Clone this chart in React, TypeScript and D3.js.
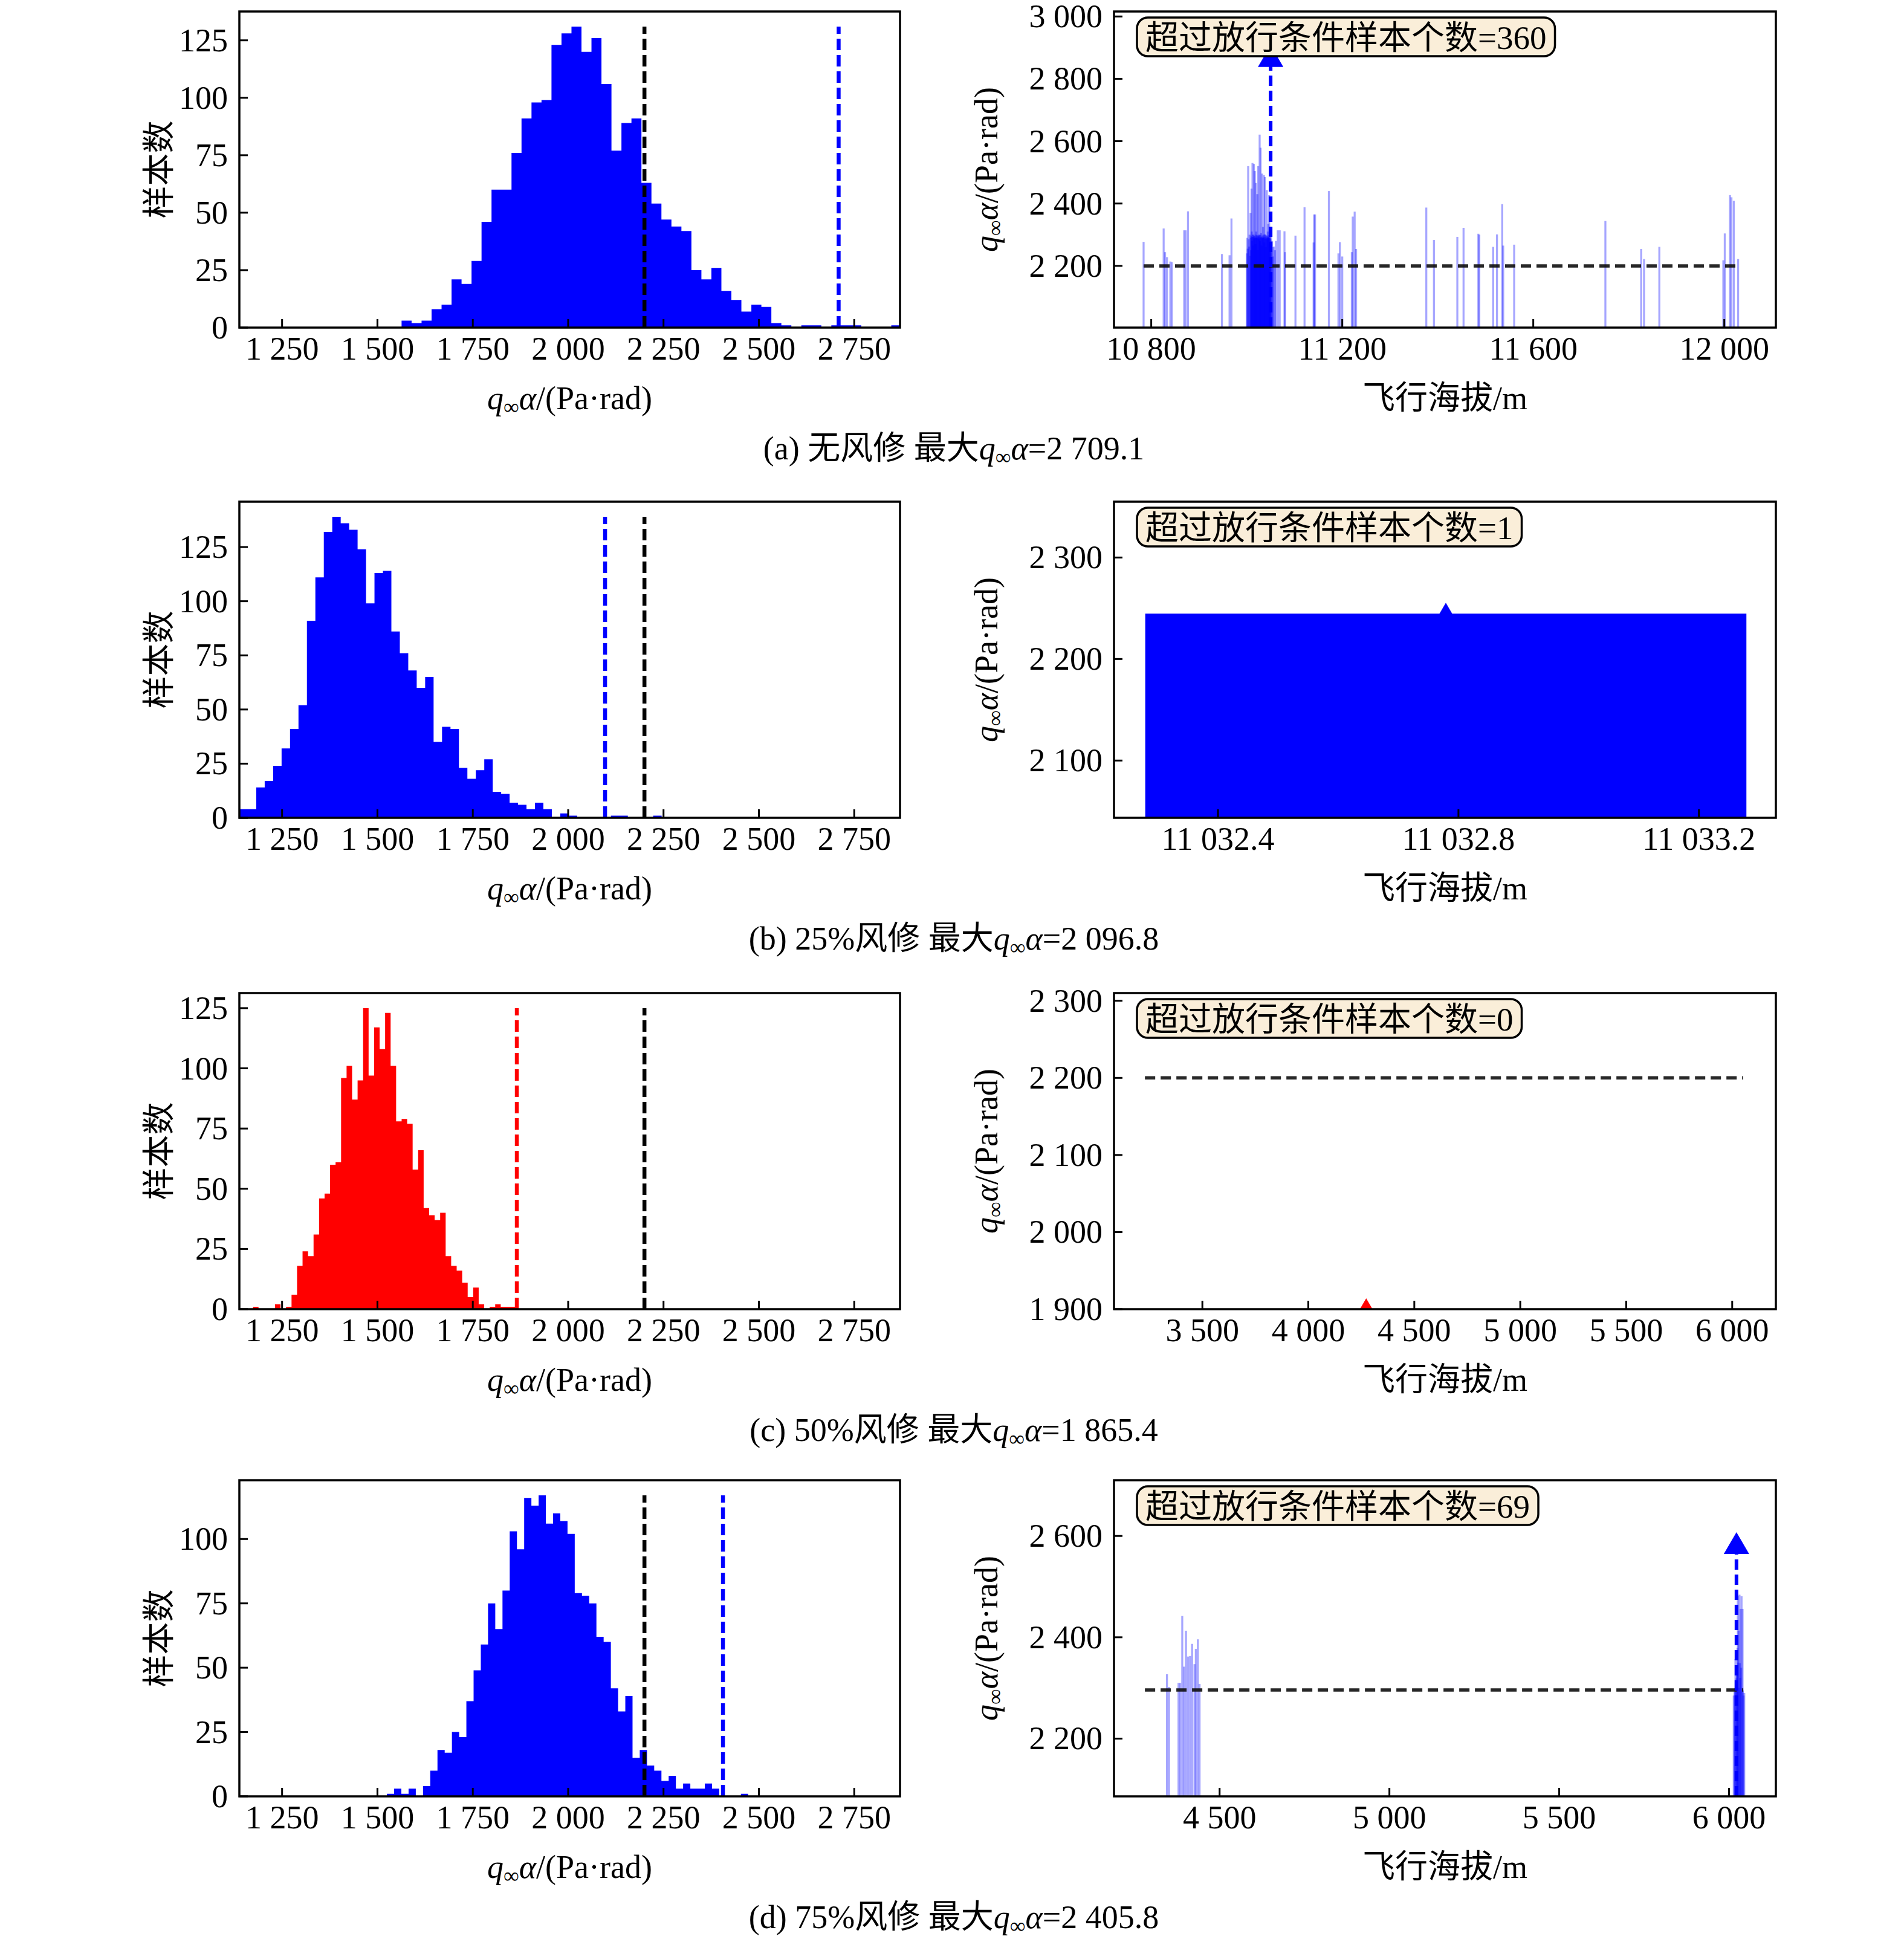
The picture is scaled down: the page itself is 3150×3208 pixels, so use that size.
import { useEffect, useRef } from "react";
import * as d3 from "d3";

const W = 3150;
const H = 3208;

// ---- left column: histograms of q·alpha ----
const histXDomain = [1138, 2870];
const histXTicks = [1250, 1500, 1750, 2000, 2250, 2500, 2750];
const histStart = [1563.3, 1138.0, 1173.8, 1524.8];
const histBinWidth = [26.2, 22.14, 14.43, 18.94];
const histCountsA = [3, 2, 3, 8, 10, 21, 19, 29, 46, 60, 60, 76, 91, 98, 99, 123, 128, 131, 120, 126, 106, 77, 89, 91, 63, 54, 47, 44, 42, 25, 21, 26, 16, 12, 7, 10, 9, 2, 1, 0, 1, 1, 0, 1, 1, 1, 0, 0, 0, 1];
const histCountsB = [4, 4, 14, 17, 24, 32, 41, 52, 91, 111, 132, 139, 136, 133, 124, 99, 113, 114, 86, 76, 68, 60, 65, 35, 42, 41, 23, 18, 22, 27, 12, 11, 7, 6, 4, 7, 4, 0, 2, 1, 0, 0, 0, 0, 1, 1, 0, 0, 0, 1];
const histCountsC = [1, 0, 0, 0, 2, 0, 1, 6, 18, 24, 22, 31, 46, 48, 60, 61, 96, 101, 87, 95, 125, 97, 117, 108, 123, 101, 78, 79, 77, 58, 66, 42, 39, 37, 40, 22, 18, 16, 11, 5, 9, 2, 0, 1, 2, 1, 1, 1];
const histCountsD = [1, 3, 1, 3, 0, 4, 10, 18, 17, 25, 23, 37, 49, 59, 75, 65, 80, 103, 96, 116, 113, 117, 106, 110, 107, 102, 79, 78, 75, 62, 60, 42, 33, 39, 15, 18, 12, 10, 6, 8, 3, 5, 3, 3, 5, 3, 0, 0, 0, 1];
const histCounts = [histCountsA, histCountsB, histCountsC, histCountsD];
const histColor = ["#0000ff", "#0000ff", "#ff0000", "#0000ff"];
const maxQ = [2709.1, 2096.8, 1865.4, 2405.8];
const limitQ = 2200;
const histYTicks = [0, 25, 50, 75, 100, 125];

// ---- right column: samples above the limit vs altitude ----
const exceedA: [number, number][] = [
  [10784, 2277], [10826, 2320], [10829, 2244], [10833, 2228], [10840, 2214], [10843, 2212],
  [10869, 2314], [10872, 2314], [10877, 2375], [10948, 2238], [10964, 2234], [10968, 2352],
  [11000, 2240], [11001, 2290], [11002, 2255], [11003, 2520], [11004, 2285], [11005, 2262],
  [11006, 2300], [11007, 2232], [11008, 2370], [11008.5, 2290], [11009, 2250], [11009.5, 2295],
  [11010, 2448], [11010.5, 2310], [11011, 2280], [11011.5, 2293], [11012, 2530], [11012.5, 2300],
  [11013, 2265], [11013.5, 2292], [11014, 2300], [11014.5, 2288], [11015, 2527], [11015.5, 2296],
  [11016, 2295], [11016.5, 2290], [11017, 2504], [11017.5, 2291], [11018, 2270], [11018.5, 2300],
  [11019, 2466], [11019.5, 2289], [11020, 2310], [11020.5, 2294], [11021, 2288], [11021.5, 2298],
  [11022, 2430], [11022.5, 2290], [11023, 2250], [11023.5, 2297], [11024, 2520], [11024.5, 2292],
  [11025, 2300], [11025.5, 2286], [11026, 2295], [11026.5, 2300], [11027, 2621], [11027.5, 2291],
  [11028, 2280], [11028.5, 2299], [11029, 2579], [11029.5, 2290], [11030, 2305], [11030.5, 2294],
  [11031, 2265], [11031.5, 2292], [11032, 2496], [11032.5, 2288], [11033, 2290], [11033.5, 2297],
  [11034, 2325], [11034.5, 2289], [11035, 2300], [11035.5, 2293], [11036, 2491], [11036.5, 2290],
  [11037, 2275], [11037.5, 2301], [11038, 2485], [11038.5, 2287], [11039, 2300], [11039.5, 2294],
  [11040, 2260], [11040.5, 2291], [11041, 2298], [11041.5, 2288], [11042, 2443], [11042.5, 2296],
  [11043, 2285], [11043.5, 2290], [11044, 2310], [11044.5, 2293], [11045, 2335], [11045.5, 2289],
  [11046, 2290], [11046.5, 2298], [11047, 2427], [11047.5, 2292], [11048, 2270], [11048.5, 2290],
  [11049, 2300], [11049.5, 2287], [11050, 2280], [11051, 2295], [11052, 2245], [11053, 2280],
  [11054, 2260], [11055, 2230], [11057, 2262], [11059, 2250], [11061, 2280],
  [11065, 2314], [11069, 2314], [11079, 2311], [11080, 2244], [11102, 2297], [11121, 2388],
  [11140, 2275], [11141, 2365], [11143, 2365], [11172, 2440], [11192, 2240], [11195, 2276],
  [11200, 2230], [11220, 2244], [11222, 2358], [11226, 2374], [11229, 2254],
  [11376, 2387], [11392, 2283], [11441, 2293], [11454, 2322], [11485, 2303], [11487, 2300],
  [11516, 2261], [11524, 2301], [11535, 2398], [11537, 2265], [11560, 2268],
  [11751, 2344], [11826, 2254], [11832, 2222], [11864, 2261],
  [11998, 2218], [12001, 2304], [12012, 2427], [12015, 2420], [12020, 2409], [12029, 2222],
];
const exceedB: [number, number][] = [[11032.779, 2244.7]];
const exceedC: [number, number][] = [];
const exceedD: [number, number][] = [
  [4345, 2327], [4351, 2302], [4379, 2310], [4384, 2310], [4390, 2442], [4395, 2342],
  [4401, 2413], [4407, 2362], [4413, 2363], [4419, 2387], [4426, 2347], [4430, 2377],
  [4436, 2396], [4441, 2308],
  [6014, 2285], [6016, 2293], [6018, 2300], [6019, 2357], [6020, 2310], [6022, 2319],
  [6023, 2336], [6024, 2330], [6025, 2379], [6026, 2481], [6027, 2350], [6028, 2413],
  [6029, 2300], [6031, 2484], [6032, 2349], [6033, 2320], [6034, 2456], [6036, 2340],
  [6037, 2481], [6038, 2300], [6040, 2456], [6041, 2295], [6043, 2285], [6045, 2290],
];
const exceed = [exceedA, exceedB, exceedC, exceedD];
const exceedCount = [360, 1, 0, 69];
const rightXDomain = [[10722, 12108], [11032.227, 11033.328], [3083, 6206], [4189, 6138]];
const rightYDomain = [[2002, 3016], [2043.6, 2355], [1900, 2310], [2086, 2710]];
const rightXTicks = [
  [10800, 11200, 11600, 12000],
  [11032.4, 11032.8, 11033.2],
  [3500, 4000, 4500, 5000, 5500, 6000],
  [4500, 5000, 5500, 6000],
];
const rightYTicks = [
  [2200, 2400, 2600, 2800, 3000],
  [2100, 2200, 2300],
  [1900, 2000, 2100, 2200, 2300],
  [2200, 2400, 2600],
];
// [x from, x to, level] of the black limit line
const limitSpan: ([number, number, number] | null)[] = [
  [10784, 12031, 2200],
  null,
  [3229, 6052, 2200],
  [4280, 6042, 2296],
];
const maxMark = [[11050, 2873], [11032.779, 2244.7], [4273, 1900], [6022, 2586]];
const captionHead = ["(a) 无风修 最大", "(b) 25%风修 最大", "(c) 50%风修 最大", "(d) 75%风修 最大"];

// layout
const ROW_TOP = [19, 830, 1643, 2449];
const PH = 523;
const LX = [396, 1489];
const RX = [1843, 2938];
const FS = 54;
const SERIF = "'Liberation Serif', 'Times New Roman', serif";
const MIXED = "'Liberation Serif', 'Noto Sans CJK SC', serif";

const loc = d3.formatLocale({ decimal: ".", thousands: " ", grouping: [3], currency: ["", ""] });
const fmtInt = loc.format(",d");
const fmt1 = loc.format(",.1f");

type Sel = d3.Selection<SVGGElement, unknown, null, undefined>;
type TSel = d3.Selection<SVGTextElement, unknown, null, undefined>;

function appendQ(t: TSel, before: string, after: string) {
  if (before) t.append("tspan").text(before);
  t.append("tspan").attr("font-style", "italic").text("q");
  t.append("tspan").attr("font-size", 36).attr("dy", 8).text("∞");
  t.append("tspan").attr("font-style", "italic").attr("dy", -8).text("α");
  t.append("tspan").text(after);
}

function drawFrameAndTicks(
  g: Sel,
  x: d3.ScaleLinear<number, number>,
  y: d3.ScaleLinear<number, number>,
  xt: number[],
  yt: number[],
  fx: (v: number) => string,
  fy: (v: number) => string
) {
  const [x0, x1] = x.range();
  const [y0, y1] = y.range(); // y0 bottom
  xt.forEach((v) => {
    g.append("line")
      .attr("x1", x(v)).attr("x2", x(v))
      .attr("y1", y0).attr("y2", y0 - 14)
      .attr("stroke", "#000").attr("stroke-width", 3);
    g.append("text")
      .attr("x", x(v)).attr("y", y0 + 53)
      .attr("text-anchor", "middle")
      .attr("font-family", SERIF).attr("font-size", FS)
      .text(fx(v));
  });
  yt.forEach((v) => {
    g.append("line")
      .attr("x1", x0).attr("x2", x0 + 14)
      .attr("y1", y(v)).attr("y2", y(v))
      .attr("stroke", "#000").attr("stroke-width", 3);
    g.append("text")
      .attr("x", x0 - 19).attr("y", y(v) + 18)
      .attr("text-anchor", "end")
      .attr("font-family", SERIF).attr("font-size", FS)
      .text(fy(v));
  });
  g.append("rect")
    .attr("x", x0).attr("y", y1)
    .attr("width", x1 - x0).attr("height", y0 - y1)
    .attr("fill", "none").attr("stroke", "#000").attr("stroke-width", 3.5);
}

function drawHist(svg: Sel, i: number) {
  const top = ROW_TOP[i];
  const counts = histCounts[i];
  const yMax = (d3.max(counts) as number) * 1.05;
  const x = d3.scaleLinear().domain(histXDomain).range(LX);
  const y = d3.scaleLinear().domain([0, yMax]).range([top + PH, top]);
  const g = svg.append("g");

  const clipId = `clip-h-${i}`;
  g.append("clipPath").attr("id", clipId)
    .append("rect").attr("x", LX[0]).attr("y", top)
    .attr("width", LX[1] - LX[0]).attr("height", PH);
  const plot = g.append("g").attr("clip-path", `url(#${clipId})`);

  const edges = d3.range(counts.length + 1).map((k) => ({
    e: histStart[i] + k * histBinWidth[i],
    c: counts[Math.min(k, counts.length - 1)],
  }));
  const area = d3.area<{ e: number; c: number }>()
    .x((d) => x(d.e))
    .y0(y(0))
    .y1((d) => y(d.c))
    .curve(d3.curveStepAfter);
  plot.append("path").attr("d", area(edges) as string).attr("fill", histColor[i]);

  const peak = d3.max(counts) as number;
  [[maxQ[i], histColor[i]], [limitQ, "#000"]].forEach(([v, col]) => {
    plot.append("line")
      .attr("x1", x(v as number)).attr("x2", x(v as number))
      .attr("y1", y(0)).attr("y2", y(peak))
      .attr("stroke", col as string).attr("stroke-width", 6.5)
      .attr("stroke-dasharray", "19,8");
  });

  drawFrameAndTicks(g, x, y, histXTicks, histYTicks.filter((v) => v <= yMax), fmtInt, fmtInt);

  g.append("text")
    .attr("transform", `translate(282,${top + PH / 2}) rotate(-90)`)
    .attr("text-anchor", "middle")
    .attr("font-family", MIXED).attr("font-size", FS)
    .text("样本数");

  const xl = g.append("text")
    .attr("x", (LX[0] + LX[1]) / 2).attr("y", top + PH + 135)
    .attr("text-anchor", "middle")
    .attr("font-family", SERIF).attr("font-size", FS);
  appendQ(xl, "", "/(Pa·rad)");
}

function drawExceed(svg: Sel, i: number) {
  const top = ROW_TOP[i];
  const x = d3.scaleLinear().domain(rightXDomain[i]).range(RX);
  const y = d3.scaleLinear().domain(rightYDomain[i]).range([top + PH, top]);
  const g = svg.append("g");

  const clipId = `clip-r-${i}`;
  g.append("clipPath").attr("id", clipId)
    .append("rect").attr("x", RX[0]).attr("y", top)
    .attr("width", RX[1] - RX[0]).attr("height", PH);
  const plot = g.append("g").attr("clip-path", `url(#${clipId})`);

  const base = y(rightYDomain[i][0]);
  const barW = (v: number) => x(v + 0.5) - x(v - 0.5);
  // one bar per sample, 1 m wide (thin ones drawn as faint hairlines)
  plot.selectAll("rect.bar")
    .data(exceed[i])
    .join("rect")
    .attr("class", "bar")
    .attr("x", (d) => (barW(d[0]) < 3.3 ? x(d[0]) - 1.65 : x(d[0] - 0.5)))
    .attr("width", (d) => Math.max(3.3, barW(d[0])))
    .attr("y", (d) => y(d[1]))
    .attr("height", (d) => base - y(d[1]))
    .attr("fill", "#0000ff")
    .attr("fill-opacity", (d) => (barW(d[0]) < 3.3 ? 0.35 : 1));

  const span = limitSpan[i];
  if (span) {
    plot.append("line")
      .attr("x1", x(span[0])).attr("x2", x(span[1]))
      .attr("y1", y(span[2])).attr("y2", y(span[2]))
      .attr("stroke", "#111").attr("stroke-opacity", 0.9)
      .attr("stroke-width", 5.5).attr("stroke-dasharray", "17,9");
  }

  const [mx, my] = maxMark[i];
  const col = histColor[i];
  plot.append("line")
    .attr("x1", x(mx)).attr("x2", x(mx))
    .attr("y1", base).attr("y2", y(my))
    .attr("stroke", col).attr("stroke-width", 6)
    .attr("stroke-dasharray", "17,8");
  const tw = 42;
  const th = 36;
  plot.append("path")
    .attr("d", `M${x(mx)},${y(my) - th / 2}L${x(mx) - tw / 2},${y(my) + th / 2}L${x(mx) + tw / 2},${y(my) + th / 2}Z`)
    .attr("fill", col);

  // annotation box
  const bx = RX[0] + 38;
  const by = top + 10;
  const box = g.append("g");
  const txt = box.append("text")
    .attr("x", bx + 14).attr("y", by + 52)
    .attr("font-family", MIXED).attr("font-size", 55)
    .text(`超过放行条件样本个数=${exceedCount[i]}`);
  const len = (txt.node() as SVGTextElement).getComputedTextLength();
  box.insert("rect", "text")
    .attr("x", bx).attr("y", by)
    .attr("width", len + 28).attr("height", 64)
    .attr("rx", 18).attr("ry", 18)
    .attr("fill", "#faeed9").attr("stroke", "#000").attr("stroke-width", 3.5);

  const fx = i === 1 ? fmt1 : fmtInt;
  drawFrameAndTicks(g, x, y, rightXTicks[i], rightYTicks[i], fx, fmtInt);

  const yl = g.append("text")
    .attr("transform", `translate(1650,${top + PH / 2}) rotate(-90)`)
    .attr("text-anchor", "middle")
    .attr("font-family", SERIF).attr("font-size", FS);
  appendQ(yl, "", "/(Pa·rad)");

  g.append("text")
    .attr("x", (RX[0] + RX[1]) / 2).attr("y", top + PH + 135)
    .attr("text-anchor", "middle")
    .attr("font-family", MIXED).attr("font-size", FS)
    .text("飞行海拔/m");
}

export default function App() {
  const ref = useRef<SVGSVGElement | null>(null);

  useEffect(() => {
    document.body.style.margin = "0";
    if (!ref.current) return;
    const root = d3.select(ref.current);
    root.selectAll("*").remove();
    root.append("rect").attr("width", W).attr("height", H).attr("fill", "#fff");
    const svg = root.append("g") as unknown as Sel;

    for (let i = 0; i < 4; i++) {
      drawHist(svg, i);
      drawExceed(svg, i);
      const cap = svg.append("text")
        .attr("x", 1578).attr("y", ROW_TOP[i] + PH + 218)
        .attr("text-anchor", "middle")
        .attr("font-family", MIXED).attr("font-size", FS);
      appendQ(cap, captionHead[i], "=" + fmt1(maxQ[i]));
    }
  }, []);

  return <svg ref={ref} width={W} height={H} style={{ display: "block" }} />;
}
